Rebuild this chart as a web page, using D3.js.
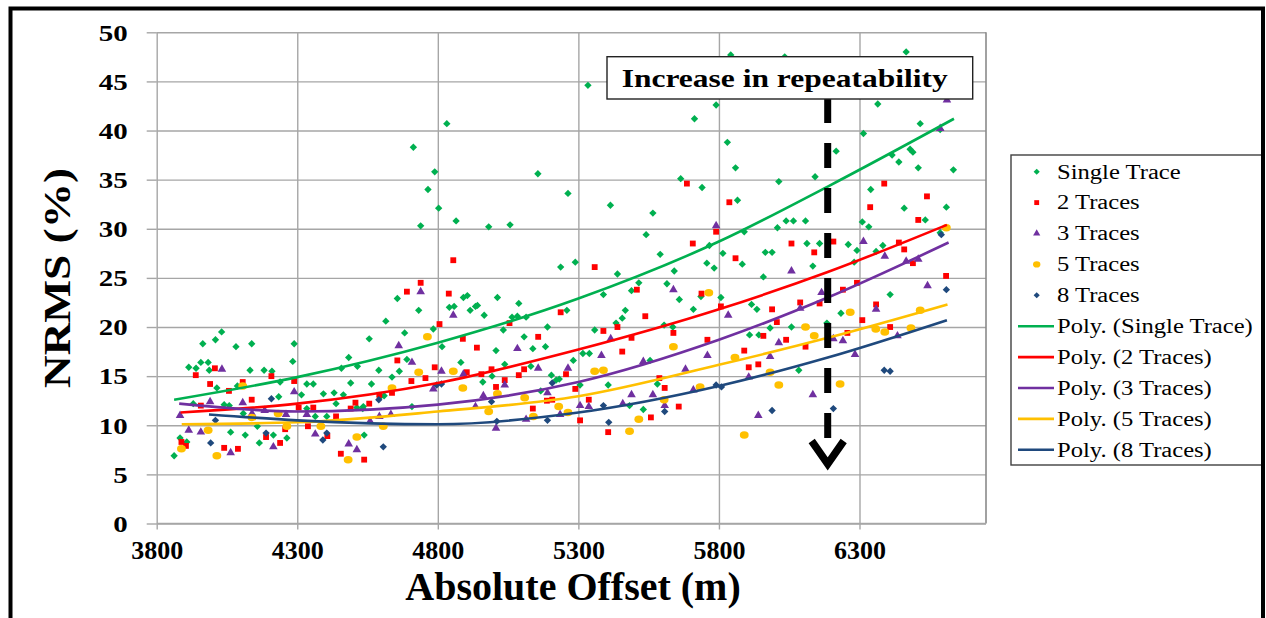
<!DOCTYPE html>
<html>
<head>
<meta charset="utf-8">
<script src="https://cdn.jsdelivr.net/npm/d3@7"></script>
<style>
  body { margin: 0; background: #fff; }
  svg { display: block; font-family: "Liberation Serif", "Times New Roman", serif; }
</style>
</head>
<body>
<div id="wrapper"></div>
<script>

// data: [absolute offset (m), NRMS (%)]
const singleTrace = [
  [4031,19.5],[3964,18.3],[4009,18.7],[4082,18.0],[4138,18.3],[4289,18.3],[4284,16.5],[3957,16.4],[3983,16.4],[3914,15.9],
  [3940,15.8],[3987,15.6],[4132,15.6],[4182,15.6],[4210,15.5],[4014,13.8],[4087,14.0],[4239,14.4],[3930,12.2],[4040,12.1],
  [4058,12.0],[4234,12.9],[4315,13.1],[4334,14.2],[4357,14.2],[4108,11.2],[4334,11.7],[4364,10.9],[4158,9.9],[4063,9.3],
  [4115,9.0],[4215,9.0],[4263,8.7],[4165,8.2],[3883,8.7],[3907,8.3],[3862,6.9],
  [4713,38.3],[4789,35.8],[4765,34.0],[4739,30.3],[4803,32.1],[4832,40.7],[4865,30.8],[4656,22.9],[4732,21.7],[4615,20.6],
  [4682,19.4],[4556,18.8],[4483,16.9],[4514,16.0],[4457,15.8],[4590,15.6],[4637,14.9],[4663,15.5],[4690,16.7],[4490,14.3],
  [4564,14.2],[4393,13.2],[4431,13.3],[4464,13.1],[4438,12.2],[4595,12.9],[4609,13.0],[4535,11.9],[4708,11.9],[4405,10.9],
  [4512,11.8],[4533,11.7],[4538,9.0],[4784,19.8],[4815,18.0],[4841,22.0],[4858,22.1],[4891,23.0],[4905,23.2],[4915,21.7],
  [4934,22.1],[4941,22.2],[4965,21.2],[4882,16.4],[4960,14.4],
  [4981,30.2],[5057,30.4],[5156,35.6],[5263,33.6],[5414,32.4],[5565,31.6],[5541,29.4],[5334,44.6],[5237,26.1],[5289,26.6],
  [5439,25.4],[5515,24.5],[5489,23.7],[5389,23.3],[5591,27.4],[5012,23.0],[5088,22.4],[5033,19.7],[5107,19.0],[5183,18.0],
  [5138,17.8],[5007,17.6],[5064,21.0],[5083,21.1],[5114,21.0],[5190,20.0],[5259,21.7],[5467,21.7],[5456,20.9],[5434,20.4],
  [5358,19.7],[5038,16.2],[5131,16.0],[5282,16.6],[5316,17.3],[5339,17.3],[5204,15.1],[5221,14.6],[5232,14.7],[5306,14.1],
  [5406,14.1],[5166,13.5],[4993,15.0],[5531,11.6],[5482,12.0],[5581,14.2],[5555,16.6],
  [5842,47.7],[6034,47.5],[5790,42.6],[5713,41.2],[5664,35.1],[5740,34.2],[5830,38.8],[5859,36.2],[6013,34.8],[6142,35.3],
  [5866,32.9],[6039,30.8],[6065,30.8],[6108,30.8],[6008,30.1],[5890,29.7],[5766,28.3],[5814,27.5],[5757,26.5],[5783,26.0],
  [5883,26.4],[5965,27.6],[5989,27.6],[6113,28.5],[6158,28.5],[6134,26.2],[5958,25.1],[5641,25.7],[5615,24.4],[5659,22.8],
  [5709,21.8],[5736,23.1],[5807,23.0],[5916,22.3],[5935,21.8],[5605,20.2],[5636,20.0],[5982,19.9],[6058,20.0],[5909,19.2],
  [5942,19.2],[6084,15.6],[6184,20.4],
  [6466,48.0],[6365,42.7],[6516,40.7],[6314,39.7],[6217,37.9],[6416,37.5],[6480,38.1],[6490,37.8],[6440,36.8],[6509,36.2],
  [6634,36.0],[6340,34.0],[6459,32.1],[6609,32.2],[6310,30.7],[6333,30.2],[6534,30.9],[6587,29.6],[6260,28.4],[6291,27.8],
  [6359,27.7],[6383,28.3],[6281,26.6],[6409,23.3],[6234,21.4],[6587,40.1]
]

const twoTraces = [
  [4007,15.8],[3939,15.1],[3990,14.2],[4057,13.5],[4106,14.4],[4138,12.6],[4208,15.0],[4289,14.5],[3957,12.0],[4305,11.8],
  [4357,11.8],[4338,9.9],[4257,9.6],[4189,8.8],[4239,8.2],[3888,8.3],[3904,7.9],[4040,7.7],[4089,7.6],
  [4739,24.5],[4690,23.6],[4839,23.4],[4855,26.8],[4806,20.3],[4656,16.6],[4889,18.8],[4939,17.9],[4789,15.9],[4756,14.8],
  [4706,14.5],[4637,13.3],[4507,12.3],[4556,12.2],[4490,11.7],[4592,13.1],[4438,10.9],[4903,15.4],[4955,15.2],[4407,8.9],
  [4455,7.1],[4538,6.5],
  [5358,26.1],[5508,23.8],[5237,21.5],[5538,21.1],[5055,20.4],[5157,19.0],[5389,19.6],[5439,20.0],[5489,18.9],[5456,17.5],
  [4991,15.7],[5107,15.7],[5088,15.1],[5038,14.6],[5007,13.9],[5256,15.2],[5289,13.7],[5188,12.5],[5207,12.6],[5138,11.7],
  [5337,12.6],[5306,10.5],[5406,9.3],[5558,10.8],[5588,14.8],
  [5837,32.7],[5790,29.7],[5707,28.5],[6058,28.5],[6139,27.6],[5859,27.0],[5738,23.4],[5807,22.1],[5989,21.8],[6089,22.5],
  [6158,22.4],[6006,20.5],[5638,19.4],[5759,18.7],[5890,17.6],[5958,19.1],[6039,18.7],[6108,18.0],[5906,15.9],[5940,16.2],
  [5607,13.8],[5657,11.9],[5686,34.6],
  [6388,34.6],[6540,33.3],[6338,32.2],[6509,30.9],[6207,28.7],[6440,28.6],[6459,27.9],[6490,26.5],[6608,25.2],[6291,24.5],
  [6241,23.8],[6359,22.3],[6310,20.7],[6409,20.0],[6257,19.4]
]

const threeTraces = [
  [4032,15.7],[4289,13.4],[3990,12.4],[4106,12.3],[3883,11.0],[4139,11.2],[4184,11.5],[4260,11.1],[4334,11.1],[3914,9.5],
  [3957,9.3],[4063,7.2],[4215,7.8],[4364,9.1],
  [4739,23.6],[4855,21.2],[4661,18.1],[4708,16.4],[4813,15.5],[4891,15.2],[4784,13.7],[4962,13.0],[4934,11.9],[4633,11.1],
  [4592,10.9],[4559,10.4],[4483,8.1],[4512,7.5],
  [5083,17.8],[5415,18.8],[5382,17.1],[5157,15.8],[5263,15.8],[5531,16.5],[5038,14.1],[5190,13.3],[5489,13.1],[5565,13.1],
  [5306,12.0],[5337,11.9],[5458,12.2],[5235,11.1],[5114,10.6],[5007,9.7],
  [5790,30.3],[6058,25.7],[5638,23.8],[6165,23.5],[5833,21.2],[6089,21.9],[6013,18.4],[5759,17.1],[5982,17.0],[5681,15.7],
  [5906,14.9],[5709,13.6],[5607,12.0],[6134,13.1],[5940,11.0],
  [6587,40.2],[6314,28.7],[6390,27.2],[6466,26.7],[6509,26.9],[6542,24.2],[6359,21.8],[6435,19.1],[6241,18.6],[6207,18.8],
  [6284,17.2],[6611,43.1]
]

const fiveTraces = [
  [4106,14.0],[4232,11.2],[4139,10.8],[3983,9.5],[4263,9.9],[3888,7.6],[4014,6.9],
  [4763,19.0],[4732,15.4],[4855,15.5],[4889,13.8],[4637,13.8],[4981,11.4],[4606,9.9],[4512,8.8],[4481,6.5],[4384,9.9],
  [5358,15.5],[5389,15.6],[5012,13.2],[5109,12.8],[5230,11.9],[5263,11.3],[5140,10.9],[5515,10.6],[5482,9.4],
  [5764,23.5],[5638,18.0],[5857,16.9],[5982,15.4],[6013,14.1],[6108,20.0],[6139,19.1],[5733,13.9],[5605,12.6],[5890,9.0],
  [6609,30.1],[6267,21.5],[6516,21.7],[6358,19.8],[6390,19.5],[6483,19.9],[6231,14.2]
]

const eightTraces = [
  [4208,12.7],[4009,10.5],[4189,9.2],[3992,8.2],[4590,12.6],[4796,14.1],[4813,14.2],[4405,9.2],[4391,8.5],[4606,7.8],
  [5207,14.3],[4991,12.4],[5010,10.4],[5190,10.5],[5389,12.0],[5408,10.3],[5790,14.1],[5809,13.9],[5607,11.4],[5989,11.5],
  [6591,29.4],[6609,23.8],[6388,15.6],[6409,15.5],[6207,11.7]
]

// polynomial trend lines
const polySingle = [[3862,12.6],[4300,14.9],[4800,18.4],[5300,22.9],[5800,28.7],[6187,34.3],[6636,41.2]]
const polyTwo    = [[3885,11.3],[4300,12.2],[4800,14.3],[5300,17.7],[5800,21.8],[6187,25.6],[6611,30.4]]
const polyThree  = [[3880,12.2],[4300,11.4],[4800,12.1],[5300,14.4],[5800,18.7],[6187,23.0],[6617,28.6]]
const polyFive   = [[3889,10.1],[4300,10.3],[4800,11.4],[5300,12.95],[5800,16.15],[6187,18.9],[6613,22.3]]
const polyEight  = [[3986,11.1],[4300,10.5],[4800,10.1],[5300,11.3],[5800,14.0],[6187,16.9],[6611,20.7]]

const seriesNames = ["Single Trace", "2 Traces", "3 Traces", "5 Traces", "8 Traces"]
const seriesColors = ["#00b050", "#ff0000", "#7030a0", "#ffc000", "#1f497d"]
const xTicks = [3800, 4300, 4800, 5300, 5800, 6300]
const yTicks = [0, 5, 10, 15, 20, 25, 30, 35, 40, 45, 50]
const annotation = "Increase in repeatability"

function drawChart() {

  // 1. dimensions
  let dimensions = {
    width: 1266,
    height: 618,
    margin: { top: 32.3, right: 280, bottom: 94.5, left: 156.7 },
  }
  dimensions.boundedWidth = dimensions.width - dimensions.margin.left - dimensions.margin.right
  dimensions.boundedHeight = dimensions.height - dimensions.margin.top - dimensions.margin.bottom

  // 2. canvas
  const wrapper = d3.select("#wrapper")
    .append("svg")
      .attr("width", dimensions.width)
      .attr("height", dimensions.height)

  wrapper.append("rect")
      .attr("width", dimensions.width)
      .attr("height", dimensions.height)
      .attr("fill", "white")

  const bounds = wrapper.append("g")
      .attr("transform", `translate(${dimensions.margin.left},${dimensions.margin.top})`)

  // 3. scales
  const xScale = d3.scaleLinear()
    .domain([3800, 6750])
    .range([0, dimensions.boundedWidth])

  const yScale = d3.scaleLinear()
    .domain([0, 50])
    .range([dimensions.boundedHeight, 0])

  // 4. grid
  const yGrid = bounds.append("g")
    .call(d3.axisLeft(yScale).tickValues(yTicks).tickSize(-dimensions.boundedWidth).tickFormat(""))
  const xGrid = bounds.append("g")
    .attr("transform", `translate(0,${dimensions.boundedHeight})`)
    .call(d3.axisBottom(xScale).tickValues(xTicks).tickSize(-dimensions.boundedHeight).tickFormat(""))
  ;[yGrid, xGrid].forEach(g => {
    g.select(".domain").remove()
    g.selectAll("line").attr("stroke", "#a6a6a6").attr("stroke-width", 1.4)
  })

  bounds.append("line")
      .attr("x1", dimensions.boundedWidth).attr("x2", dimensions.boundedWidth)
      .attr("y1", 0).attr("y2", dimensions.boundedHeight)
      .attr("stroke", "#8a8a8a").attr("stroke-width", 1.6)

  // 5. axes with labels
  const yAxis = bounds.append("g")
    .call(d3.axisLeft(yScale).tickValues(yTicks).tickSize(10).tickPadding(0))
  yAxis.select(".domain").remove()
  yAxis.selectAll("line").attr("stroke", "#a6a6a6").attr("stroke-width", 1.4)
  yAxis.selectAll("text")
      .attr("x", 0)
      .attr("dy", "0.34em")
      .attr("transform", "translate(-29,0) scale(1.26,1)")
      .attr("text-anchor", "end")
      .attr("fill", "#000")
      .style("font-family", "'Liberation Serif', serif")
      .style("font-weight", "bold")
      .style("font-size", "23px")

  const xAxis = bounds.append("g")
    .attr("transform", `translate(0,${dimensions.boundedHeight})`)
    .call(d3.axisBottom(xScale).tickValues(xTicks).tickSize(6).tickPadding(0).tickFormat(d3.format("d")))
  xAxis.select(".domain").attr("stroke", "#a6a6a6").attr("stroke-width", 1.4).attr("d", `M0,0H${dimensions.boundedWidth}`)
  xAxis.selectAll("line").attr("stroke", "#a6a6a6").attr("stroke-width", 1.4)
  xAxis.selectAll("text")
      .attr("y", 35)
      .attr("dy", null)
      .attr("fill", "#000")
      .style("font-family", "'Liberation Serif', serif")
      .style("font-weight", "bold")
      .style("font-size", "26px")

  wrapper.append("text")
      .attr("x", 573)
      .attr("y", 600)
      .attr("text-anchor", "middle")
      .style("font-weight", "bold")
      .style("font-size", "40px")
      .text("Absolute Offset (m)")

  wrapper.append("text")
      .attr("transform", "translate(70,278) rotate(-90)")
      .attr("text-anchor", "middle")
      .attr("textLength", 220)
      .attr("lengthAdjust", "spacingAndGlyphs")
      .style("font-weight", "bold")
      .style("font-size", "38px")
      .text("NRMS (%)")

  // 6. markers
  const markerPath = (i, scale = 1) => {
    if (i === 0 || i === 4) return d3.symbol(d3.symbolSquare, 27 * scale)()
    if (i === 1) return d3.symbol(d3.symbolSquare, 34 * scale)()
    if (i === 2) return d3.symbol(d3.symbolTriangle, 32 * scale)()
    return d3.symbol(d3.symbolCircle, 44 * scale)()
  }
  const markerTransform = (i, x, y) => {
    if (i === 0 || i === 4) return `translate(${x},${y}) rotate(45)`
    if (i === 3) return `translate(${x},${y}) scale(1.18,1)`
    return `translate(${x},${y})`
  }

  const allSeries = [singleTrace, twoTraces, threeTraces, fiveTraces, eightTraces]
  const allPolys = [polySingle, polyTwo, polyThree, polyFive, polyEight]

  allSeries.forEach((dataset, i) => {
    bounds.append("g")
      .selectAll("path")
      .data(dataset)
      .join("path")
        .attr("d", markerPath(i))
        .attr("transform", d => markerTransform(i, xScale(d[0]), yScale(d[1])))
        .attr("fill", seriesColors[i])
  })

  const lineGenerator = d3.line()
    .x(d => xScale(d[0]))
    .y(d => yScale(d[1]))
    .curve(d3.curveMonotoneX)

  allPolys.forEach((poly, i) => {
    bounds.append("path")
        .attr("d", lineGenerator(poly))
        .attr("fill", "none")
        .attr("stroke", seriesColors[i])
        .attr("stroke-width", 2.6)
  })

  // 7. annotation box and arrow
  const arrowX = 827.7
  wrapper.append("line")
      .attr("x1", arrowX).attr("x2", arrowX)
      .attr("y1", 98).attr("y2", 441)
      .attr("stroke", "#000")
      .attr("stroke-width", 7)
      .attr("stroke-dasharray", "25,20")
  wrapper.append("path")
      .attr("d", `M${arrowX - 16},${441} L${arrowX},${464} L${arrowX + 16},${441}`)
      .attr("fill", "none")
      .attr("stroke", "#000")
      .attr("stroke-width", 7.5)

  wrapper.append("rect")
      .attr("x", 607).attr("y", 56.7)
      .attr("width", 365.7).attr("height", 42.3)
      .attr("fill", "white")
      .attr("stroke", "#222")
      .attr("stroke-width", 1.4)
  wrapper.append("text")
      .attr("x", 621.7).attr("y", 86.7)
      .attr("textLength", 326)
      .attr("lengthAdjust", "spacingAndGlyphs")
      .style("font-weight", "bold")
      .style("font-size", "26px")
      .text(annotation)

  // 8. legend
  const legend = wrapper.append("g")
  legend.append("rect")
      .attr("x", 1011).attr("y", 155)
      .attr("width", 251).attr("height", 310)
      .attr("fill", "white")
      .attr("stroke", "#404040")
      .attr("stroke-width", 1.4)

  const legendItems = seriesNames.map((name, i) => ({ kind: "marker", i, name }))
    .concat(seriesNames.map((name, i) => ({ kind: "line", i, name: `Poly. (${name})` })))

  legendItems.forEach((item, k) => {
    const y = 171.7 + k * 30.9
    if (item.kind === "marker") {
      legend.append("path")
          .attr("d", markerPath(item.i, 0.7))
          .attr("transform", markerTransform(item.i, 1036.7, y))
          .attr("fill", seriesColors[item.i])
    } else {
      legend.append("line")
          .attr("x1", 1018).attr("x2", 1054)
          .attr("y1", y).attr("y2", y)
          .attr("stroke", seriesColors[item.i])
          .attr("stroke-width", 2.6)
    }
    legend.append("text")
        .attr("transform", `translate(1057,${y + 6.8}) scale(1.23,1)`)
        .style("font-size", "20px")
        .text(item.name)
  })

  // outer frame
  wrapper.append("rect")
      .attr("x", 10.5).attr("y", 8.5)
      .attr("width", 1252.5).attr("height", 640)
      .attr("fill", "none")
      .attr("stroke", "#000")
      .attr("stroke-width", 4)
}
drawChart()
</script>
</body>
</html>
